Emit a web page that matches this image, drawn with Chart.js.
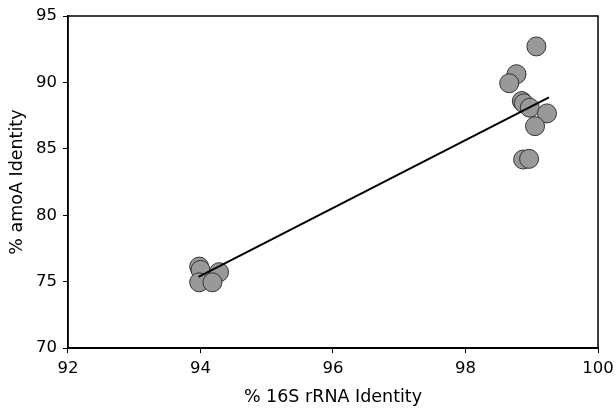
<!DOCTYPE html>
<html>
<head>
<meta charset="utf-8">
<script src="https://cdn.jsdelivr.net/npm/chart.js@4"></script>
<style>
  html, body { margin: 0; padding: 0; background: #fff; }
  #wrap { width: 616px; height: 411px; }
</style>
</head>
<body>
<div id="wrap"><canvas id="c" width="616" height="411"></canvas></div>
<script>
// 16S rRNA identity vs amoA identity
var rrnaX = [93.98, 94.0, 93.98, 94.28, 94.18,
             99.07, 98.77, 98.66, 98.85, 98.88, 98.97, 99.23, 99.05, 98.87, 98.96];
var amoaY = [76.14, 75.89, 74.96, 75.72, 74.96,
             92.71, 90.62, 89.94, 88.6, 88.43, 88.1, 87.67, 86.71, 84.2, 84.25];
// regression line endpoints
var fitX = [93.97, 99.26];
var fitY = [75.36, 88.88];
var xTicks = [92, 94, 96, 98, 100];
var yTicks = [70, 75, 80, 85, 90, 95];

var points = rrnaX.map(function (x, i) { return { x: x, y: amoaY[i] }; });
var fit = fitX.map(function (x, i) { return { x: x, y: fitY[i] }; });

var tickFont = { family: "'DejaVu Sans', Verdana, sans-serif", size: 16.5 };
var titleFont = { family: "'DejaVu Sans', Verdana, sans-serif", size: 17.5 };

var frame = {
  id: 'frame',
  afterDraw: function (chart) {
    var a = chart.chartArea, ctx = chart.ctx;
    ctx.save();
    ctx.strokeStyle = '#000';
    ctx.lineWidth = 1.5;
    ctx.strokeRect(a.left, a.top, a.right - a.left, a.bottom - a.top);
    ctx.restore();
  }
};

new Chart(document.getElementById('c').getContext('2d'), {
  type: 'scatter',
  data: {
    datasets: [
      {
        data: points,
        backgroundColor: '#999',
        borderColor: '#333',
        borderWidth: 1,
        pointRadius: 9.5,
        order: 2
      },
      {
        type: 'line',
        data: fit,
        borderColor: '#000',
        borderWidth: 2,
        pointRadius: 0,
        fill: false,
        order: 1
      }
    ]
  },
  options: {
    responsive: false,
    animation: false,
    layout: { padding: { top: 16, right: 0, left: 3, bottom: 3 } },
    plugins: { legend: { display: false }, tooltip: { enabled: false } },
    scales: {
      x: {
        min: 92, max: 100,
        afterBuildTicks: function (s) { s.ticks = xTicks.map(function (v) { return { value: v }; }); },
        afterFit: function (s) { s.paddingRight = 18; },
        grid: { drawOnChartArea: false, drawTicks: true, tickLength: 5, color: '#000' },
        border: { display: true, color: '#000', width: 1.5 },
        ticks: { color: '#000', font: tickFont, padding: 6, maxRotation: 0 },
        title: { display: true, text: '% 16S rRNA Identity', color: '#000', font: titleFont, padding: { top: 2, bottom: 0 } }
      },
      y: {
        min: 70, max: 95,
        afterBuildTicks: function (s) { s.ticks = yTicks.map(function (v) { return { value: v }; }); },
        grid: { drawOnChartArea: false, drawTicks: true, tickLength: 5, color: '#000' },
        border: { display: true, color: '#000', width: 1.5 },
        ticks: { color: '#000', font: tickFont, padding: 6 },
        title: { display: true, text: '% amoA Identity', color: '#000', font: titleFont, padding: { bottom: 2 } }
      }
    }
  },
  plugins: [frame]
});
</script>
</body>
</html>
